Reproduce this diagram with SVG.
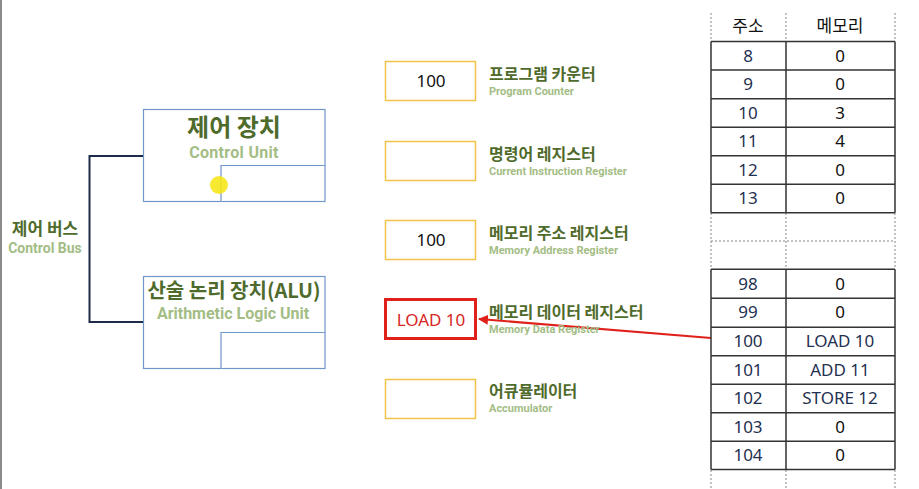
<svg xmlns="http://www.w3.org/2000/svg" width="919" height="489" viewBox="0 0 919 489">
<defs>
<marker id="ah" viewBox="0 0 10 10" refX="9" refY="5" markerWidth="5" markerHeight="5" orient="auto" markerUnits="strokeWidth">
<path d="M0,0 L10,5 L0,10 z" fill="#e0201b"/>
</marker>
</defs>
<style>
.ko{font-family:"Noto Sans CJK KR","Noto Sans",sans-serif;font-weight:bold;fill:#4f6b2c}
.en{font-family:Roboto,"Noto Sans",sans-serif;font-weight:bold;fill:#a3bd85}
.unit{fill:#fff;stroke:#6f97c9;stroke-width:1.2}
.reg{fill:#fff;stroke:#f2c34a;stroke-width:1.5}
.val{font-family:"Noto Sans","Noto Sans CJK KR",sans-serif;font-size:17px;fill:#111;text-anchor:middle}
.cell{font-family:"Noto Sans","Noto Sans CJK KR",sans-serif;font-size:17px;text-anchor:middle;fill:#1f3050}
.grid{stroke:#333;stroke-width:1.5;fill:none}
.dash{stroke:#888;stroke-width:1;stroke-dasharray:2,2;fill:none}
</style>
<rect width="919" height="489" fill="#fff"/>
<rect x="0" y="0" width="2" height="489" fill="#8a8a8a"/>

<g id="bus">
<text class="ko" x="45" y="235" font-size="17" text-anchor="middle">제어 버스</text>
<text class="en" x="45" y="253" font-size="14" text-anchor="middle">Control Bus</text>
</g>

<g id="control-unit">
<rect class="unit" x="143.5" y="109.5" width="181.5" height="92"/>
<path class="unit" d="M221,201.5 V165.5 H325" fill="none"/>
<text class="ko" x="234" y="136" font-size="24" text-anchor="middle">제어 장치</text>
<text class="en" x="234" y="158" font-size="16" letter-spacing="0.3" text-anchor="middle">Control Unit</text>
<circle cx="219" cy="185" r="9" fill="#f6e61a" opacity="0.9"/>
</g>

<g id="alu">
<rect class="unit" x="143.5" y="276.5" width="181.5" height="92"/>
<path class="unit" d="M221,368.5 V332.5 H325" fill="none"/>
<text class="ko" x="234" y="298" font-size="20" text-anchor="middle">산술 논리 장치(ALU)</text>
<text class="en" x="233" y="319" font-size="16" text-anchor="middle">Arithmetic Logic Unit</text>
</g>

<g id="connectors">
<path d="M143,156 H89.5 V322 H143" fill="none" stroke="#1d2a48" stroke-width="2"/>
<line x1="711" y1="338" x2="479" y2="319" stroke="#e0201b" stroke-width="2" marker-end="url(#ah)"/>
</g>

<g id="pc">
<rect class="reg" x="385.5" y="61.5" width="90" height="39"/>
<text class="val" x="431" y="87">100</text>
<text class="ko" x="489" y="80" font-size="16">프로그램 카운터</text>
<text class="en" x="489" y="95" font-size="11">Program Counter</text>
</g>
<g id="cir">
<rect class="reg" x="385.5" y="141.5" width="90" height="39"/>
<text class="ko" x="489" y="160" font-size="16">명령어 레지스터</text>
<text class="en" x="489" y="175" font-size="11">Current Instruction Register</text>
</g>
<g id="mar">
<rect class="reg" x="385.5" y="220.5" width="90" height="39"/>
<text class="val" x="431" y="246">100</text>
<text class="ko" x="489" y="239" font-size="16">메모리 주소 레지스터</text>
<text class="en" x="489" y="254" font-size="11">Memory Address Register</text>
</g>
<g id="mdr">
<rect x="385.5" y="299.5" width="90" height="39" fill="#fff" stroke="#e0201b" stroke-width="3"/>
<text class="val" x="431" y="326" style="fill:#d7261e">LOAD 10</text>
<text class="ko" x="489" y="318" font-size="16">메모리 데이터 레지스터</text>
<text class="en" x="489" y="333" font-size="11">Memory Data Register</text>
</g>
<g id="acc">
<rect class="reg" x="385.5" y="379.5" width="90" height="39"/>
<text class="ko" x="489" y="397" font-size="16">어큐뮬레이터</text>
<text class="en" x="489" y="412" font-size="11">Accumulator</text>
</g>

<g id="memory">
<path class="dash" d="M711,13 V41 M786,13 V41 M895,13 V41 M711,213 V269 M786,213 V269 M895,213 V269 M711,241 H895 M711,470 V489 M786,470 V489 M895,470 V489"/>
<text class="cell" x="748" y="32" style="fill:#111">주소</text>
<text class="cell" x="840" y="32" style="fill:#111">메모리</text>
<path class="grid" d="M711,41.5 H895 M711,70 H895 M711,98.7 H895 M711,127.3 H895 M711,155.7 H895 M711,184.3 H895 M711,212.7 H895 M711,41.5 V212.7 M786,41.5 V212.7 M895,41.5 V212.7"/>
<path class="grid" d="M711,269.3 H895 M711,298.3 H895 M711,327.3 H895 M711,355.7 H895 M711,384.3 H895 M711,412.7 H895 M711,441.3 H895 M711,469.5 H895 M711,269.3 V469.5 M786,269.3 V469.5 M895,269.3 V469.5"/>
<g class="cell">
<text x="748" y="62">8</text><text x="840" y="62" style="fill:#111">0</text>
<text x="748" y="90">9</text><text x="840" y="90" style="fill:#111">0</text>
<text x="748" y="119">10</text><text x="840" y="119" style="fill:#111">3</text>
<text x="748" y="147">11</text><text x="840" y="147" style="fill:#111">4</text>
<text x="748" y="176">12</text><text x="840" y="176" style="fill:#111">0</text>
<text x="748" y="204">13</text><text x="840" y="204" style="fill:#111">0</text>
<text x="748" y="290">98</text><text x="840" y="290" style="fill:#111">0</text>
<text x="748" y="318">99</text><text x="840" y="318" style="fill:#111">0</text>
<text x="748" y="347">100</text><text x="840" y="347">LOAD 10</text>
<text x="748" y="376">101</text><text x="840" y="376">ADD 11</text>
<text x="748" y="404">102</text><text x="840" y="404">STORE 12</text>
<text x="748" y="433">103</text><text x="840" y="433" style="fill:#111">0</text>
<text x="748" y="461">104</text><text x="840" y="461" style="fill:#111">0</text>
</g>
</g>
</svg>
